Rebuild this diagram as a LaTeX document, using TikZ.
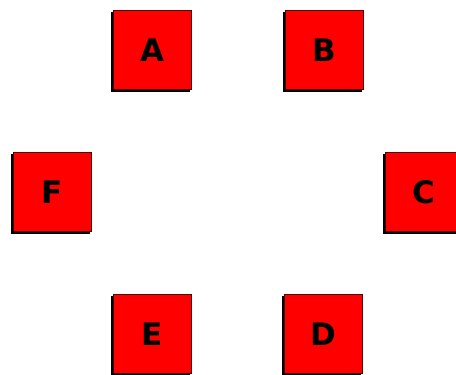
\documentclass[tikz,border=0pt]{standalone}
\usepackage{fontspec}
\setmainfont{DejaVu Sans}
\tikzset{
  letterbox/.style={draw=black!70!red, line width=1pt, fill=red, minimum width=78pt, minimum height=79pt, inner sep=0pt, font=\fontsize{31}{31}\selectfont\bfseries, text=black},
  boxshadow/.style={fill=black, minimum width=79pt, minimum height=80pt, inner sep=0pt}
}
\begin{document}
\begin{tikzpicture}[x=1pt,y=1pt]
\clip (0,0) rectangle (456,-375);
\useasboundingbox (0,0) rectangle (456,-375);
% shadows
\foreach \x/\y in {152/-50, 324/-50, 52/-192, 424/-192, 323/-334, 152/-334}{
  \node[boxshadow] at (\x-2,\y-2) {};
}
\node[letterbox] (A) at (152,-50) {A};
\node[letterbox] (B) at (324,-50) {B};
\node[letterbox] (F) at (52,-192) {F};
\node[letterbox] (C) at (424,-192) {C};
\node[letterbox] (D) at (323,-334) {D};
\node[letterbox] (E) at (152,-334) {E};
\end{tikzpicture}
\end{document}
